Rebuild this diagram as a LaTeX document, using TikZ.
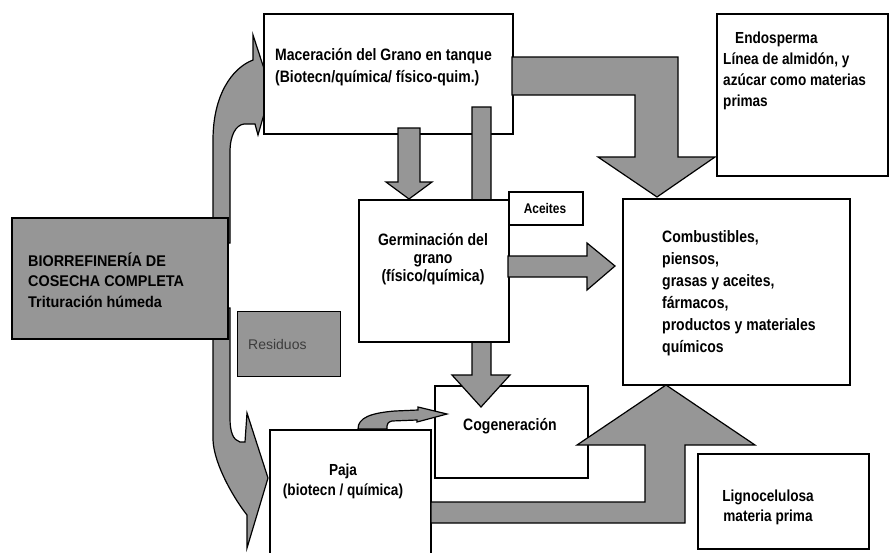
\documentclass[tikz,border=0pt]{standalone}
\usepackage{fontspec}
\setmainfont{Liberation Sans}[FakeStretch=0.85]
\newfontfamily\bioFont{Liberation Sans}[FakeStretch=0.93]
\newfontfamily\resFont{Liberation Sans}
\definecolor{fillgray}{RGB}{150,150,150}
\definecolor{resgray}{RGB}{60,60,60}
\begin{document}
\begin{tikzpicture}[x=1pt,y=-1pt,
  box/.style={draw=black, line width=1.6pt, fill=white, inner sep=0pt, anchor=north west},
  graybox/.style={box, fill=fillgray},
  blk/.style={draw=black, line width=1.2pt, fill=fillgray, line join=miter},
  txt/.style={font=\fontsize{16.5}{22}\selectfont\bfseries, inner sep=0pt, align=left}]
\useasboundingbox (0,0) rectangle (889,552);
\clip (0,0) rectangle (889,552);

% left curved arrows (behind the source box)
\draw[blk] (213,243) -- (213,140) .. controls (213,95) and (232,68) .. (253,60)
  -- (253,35) -- (271,90) -- (258,135) -- (255,124) -- (244,124)
  .. controls (236,125) and (230,135) .. (230,152) -- (230,243) -- cycle;
\draw[blk] (213,308) -- (213,440) .. controls (214,465) and (235,500) .. (247,515)
  -- (247,548) -- (268,478) -- (247,413) -- (245,442) -- (240,442)
  .. controls (233,440) and (230,432) .. (230,418) -- (230,308) -- cycle;

% source box
\node[graybox, minimum width=216pt, minimum height=121pt] (bio) at (11,217) {};
\node[inner sep=0pt, anchor=west, align=left, font=\bioFont\fontsize{15.5}{20.5}\selectfont\bfseries]
  (biotxt) at (28,280) {BIORREFINER\'IA DE\\COSECHA COMPLETA\\Trituraci\'on h\'umeda};

% residuos
\node[graybox, line width=1.2pt, minimum width=103pt, minimum height=65pt] (res) at (237,311) {};
\node[inner sep=0pt, anchor=west, text=resgray, font=\resFont\fontsize{14}{16}\selectfont] (restxt) at (248,344) {Residuos};

% boxes
\node[box, minimum width=249pt, minimum height=120pt] (mac) at (263,13) {};
\node[txt, anchor=west] (mactxt) at (275,67) {Maceraci\'on del Grano en tanque\\(Biotecn/qu\'imica/ f\'isico-quim.)};
\node[box, minimum width=153pt, minimum height=92pt] (cog) at (434,385) {};
\node[txt, anchor=center] (cogtxt) at (510,426) {Cogeneraci\'on};

% arrows from maceracion
\draw[blk] (512,57) -- (678,57) -- (678,157) -- (715,157) -- (657,197) -- (598,157)
  -- (635,157) -- (635,95) -- (512,95) -- cycle;
\draw[blk] (398,128) -- (420,128) -- (420,182) -- (432,182) -- (409,199) -- (386,182)
  -- (398,182) -- cycle;
\draw[blk] (472,107) -- (491,107) -- (491,375) -- (510,375) -- (481,407) -- (452,375)
  -- (472,375) -- cycle;

% germinacion and aceites
\node[box, minimum width=150pt, minimum height=142pt] (germ) at (358,199) {};
\node[txt, align=center, font=\fontsize{16.5}{18}\selectfont\bfseries] (germtxt) at (433,259)
  {Germinaci\'on del\\grano\\(f\'isico/qu\'imica)};
\node[box, minimum width=74pt, minimum height=33pt] (ace) at (508,191) {};
\node[inner sep=0pt, font=\fontsize{14}{16}\selectfont\bfseries] (acetxt) at (545,208) {Aceites};

\draw[blk] (508,256) -- (587,256) -- (587,243) -- (615,266) -- (587,290) -- (587,277)
  -- (508,277) -- cycle;

% products
\node[box, minimum width=227pt, minimum height=186pt] (comb) at (622,198) {};
\node[txt, anchor=west] (combtxt) at (662,293)
  {Combustibles,\\piensos,\\grasas y aceites,\\f\'armacos,\\productos y materiales\\qu\'imicos};

% endosperma
\node[box, minimum width=171pt, minimum height=162pt] (endo) at (716,13) {};
\node[txt, anchor=west, font=\fontsize{16}{21}\selectfont\bfseries] (endotxt) at (723,71)
  {\hspace*{12pt}Endosperma\\L\'inea de almid\'on, y\\az\'ucar como materias\\primas};

% paja
\node[box, minimum width=161pt, minimum height=140pt] (paja) at (269,429) {};
\node[txt, align=center, font=\fontsize{16}{20}\selectfont\bfseries] (pajatxt) at (343,481)
  {Paja\\(biotecn / qu\'imica)};
\draw[blk] (358,429) .. controls (358,418) and (370,413) .. (395,411) -- (418,410)
  -- (418,407) -- (447,414) -- (417,422) -- (417,420) -- (392,421)
  .. controls (388,422) and (387,424) .. (387,426) -- (387,429) -- cycle;

% lignocelulosa arrow
\draw[blk] (431,502) -- (645,502) -- (645,445) -- (577,445) -- (666,385) -- (755,445)
  -- (685,445) -- (685,523) -- (431,523) -- cycle;
\node[box, minimum width=171pt, minimum height=95pt] (ligno) at (697,453) {};
\node[txt, align=center, font=\fontsize{16}{20}\selectfont\bfseries] (lignotxt) at (768,507)
  {Lignocelulosa\\materia prima};
\end{tikzpicture}
\end{document}
